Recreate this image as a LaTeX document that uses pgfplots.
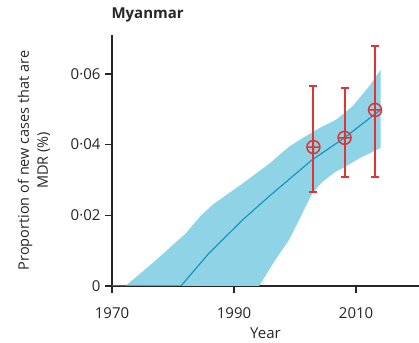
\documentclass[border=0pt]{standalone}
\usepackage{fontspec}
\setmainfont{Open Sans}
\usepackage{pgfplots}
\pgfplotsset{compat=1.18}
\definecolor{band}{RGB}{143,211,230}
\definecolor{ln}{RGB}{22,150,195}
\definecolor{err}{RGB}{222,52,52}
\begin{document}
\begin{tikzpicture}
\begin{axis}[name=ax,
 scale only axis, width=307pt, height=251pt,
 xmin=1970, xmax=2020.3, ymin=0, ymax=0.071,
 scaled y ticks=false,
 axis lines*=left, axis line style={line width=1.3pt, black!85},
 xtick={1970,1990,2010}, xticklabels={1970,1990,2010},
 ytick={0,0.02,0.04,0.06}, yticklabels={0,0·02,0·04,0·06},
 tick align=outside, major tick length=7pt, tick style={line width=1.3pt,black!85},
 ticklabel style={font=\fontsize{15}{17}\selectfont, black!85},
 yticklabel style={xshift=-1pt},
 xticklabel style={yshift=-11pt},
 xlabel={Year}, xlabel style={font=\fontsize{15}{17}\selectfont, black!85,
   at={(axis description cs:0.5,0)}, anchor=center, yshift=-47pt},
 ylabel={Proportion of new cases that are\\MDR (\%)},
 ylabel style={align=center, font=\fontsize{14.5}{19}\selectfont, black!85,
   at={(axis description cs:-0.19,0.5)}, anchor=south},
 title={\textbf{Myanmar}}, title style={at={(0,1)}, anchor=base west, font=\fontsize{15}{17}\selectfont, black!85, yshift=10pt, xshift=-4pt},
]
\addplot[fill=band, draw=none] coordinates {
 (1970,0) (1972.2,0) (1976.6,0.0064) (1982.1,0.0149) (1984.5,0.0198) (1986.5,0.023)
 (1991.4,0.029) (1995.7,0.0345) (1999,0.0394) (2001.2,0.0418) (2003.9,0.0446) (2006.7,0.047)
 (2009.4,0.0508) (2012.1,0.0564) (2014,0.0611)
 (2014,0.039) (2010.5,0.0361) (2008.3,0.0338) (2006.7,0.0324) (2004.5,0.0295)
 (2002.8,0.0262) (2001.2,0.0206) (1999,0.013) (1996.8,0.0075) (1994.1,0) (1970,0)
} -- cycle;
\addplot[ln, line width=1.2pt] coordinates {
 (1970,0) (1981.3,0) (1985.9,0.0093) (1991.4,0.0187) (1995.7,0.0253) (2002.8,0.0357)
 (2008,0.0418) (2012.9,0.0484) (2014,0.0498)
};
\addplot[err, only marks, mark=oplus, mark size=6.5pt, line width=1.5pt,
 mark options={fill=none, line width=1.5pt},
 error bars/y dir=both, error bars/y explicit,
 error bars/error bar style={line width=2pt, color=err},
 error bars/error mark options={rotate=90, mark size=4pt, line width=2pt, color=err}]
 coordinates {
 (2003,0.0393) += (0,0.0173) -= (0,0.0128)
 (2008.1,0.0419) += (0,0.014) -= (0,0.011)
 (2013.1,0.0498) += (0,0.0182) -= (0,0.0189)
};
\end{axis}
\pgfresetboundingbox
\path ([xshift=-112pt,yshift=35pt]ax.north west) rectangle ([yshift=-57pt]ax.south east);
\end{tikzpicture}
\end{document}
